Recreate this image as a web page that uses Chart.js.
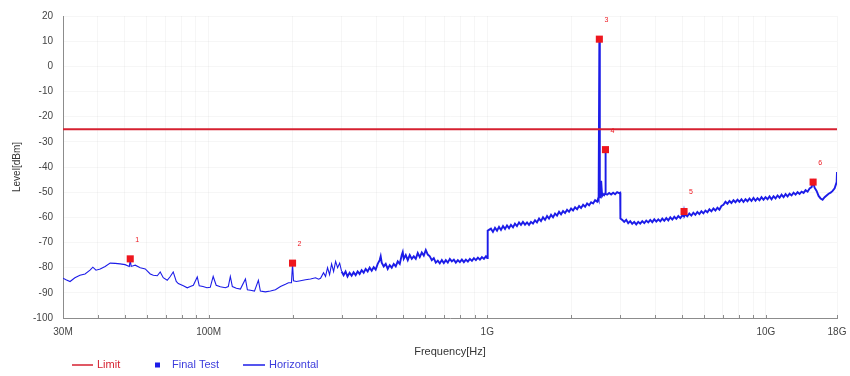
<!DOCTYPE html>
<html><head><meta charset="utf-8">
<script src="https://cdn.jsdelivr.net/npm/chart.js@4.4.1/dist/chart.umd.min.js"></script>
<style>html,body{margin:0;padding:0;background:#fff}canvas{display:block}</style>
</head><body>
<canvas id="c" width="850" height="376"></canvas>
<script>
// ---- data (frequency in MHz, level in dBm) ----
const traceFreqMHz = [
 30.0,30.75,31.8,33.1,34.5,36.0,37.5,38.4,39.4,40.8,42.5,44.3,46.2,48.1,50.1,51.9,52.3,52.7,54.5,56.8,
 59.2,61.7,63.3,65.4,67.0,68.7,71.0,72.8,74.6,76.5,77.8,81.1,83.8,85.9,88.1,91.0,92.5,95.4,98.6,101.3,
 103.8,106.4,110.1,114.8,117.6,119.6,121.6,125.7,130.0,135.5,137.7,141.2,146.0,150.8,153.3,159.8,166.6,173.6,181.0,188.6,
 193.4,198.2,200.0,201.6,206.6,213.6,222.6,232.0,241.9,248.0,252.1,258.4,262.7,267.1,271.6,276.2,280.8,285.5,290.3,295.2,300.0,
 305,310,315,320.5,325.9,331.3,336.9,342.5,348.2,354.0,360.0,366.0,372.1,378.3,384.7,391.1,397.6,404.3,411.0,414.4,
 417.9,424.9,432.0,439.2,446.5,454.0,461.5,469.3,477.1,485.1,493.2,497.3,501.4,509.8,518.3,526.9,535.7,544.7,553.8,563.0,
 572.4,582.0,591.7,601.6,611.6,621.8,632.2,642.7,653.4,664.3,675.4,686.8,698.2,709.9,721.7,733.8,746.1,758.5,771.2,784.1,
 797.2,810.6,824.1,837.9,851.9,866.1,880.7,895.4,910.3,925.5,941.0,956.7,972.7,988.9,997,1000,
 1002,1005,1030.8,1048,1066,1084,1102,1120,1139,1158,1177,1197,1216,1237,1257,1278,1300,1321,1343,1366,
 1389,1412,1435,1459,1484,1508,1534,1559,1585,1612,1639,1666,1694,1722,1751,1780,1810,1840,1871,1902,
 1934,1966,1999,2032,2066,2101,2136,2171,2208,2245,2282,2320,2359,2398,2438,2479,2500,2510,2525,2535,
 2542,2563,2584,2606,2627,2650,2656,2662,2693,2738,2784,2830,2877,2925,2974,2999,3005,
 3050,3101,3153,3205,3259,3313,3368,3425,3482,3540,3600,3660,3721,3783,3846,3911,3976,4043,4110,4179,
 4248,4319,4391,4465,4539,4615,4692,4770,4850,4931,5014,5060,5085,5110,5139,5224,5312,5402,5492,5584,
 5677,5772,5869,5967,6067,6168,6271,6375,6482,6590,6700,6812,6925,7041,7159,7278,7400,7523,7649,7777,
 7907,8039,8173,8310,8449,8590,8733,8878,9027,9177,9330,9486,9645,9806,9970,10136,10305,10478,10653,10831,
 11012,11196,11383,11573,11767,11963,12163,12365,12571,12782,12995,13212,13433,13657,13885,14117,14353,14593,14775,14958,
 15207,15461,15719,15983,16250,16521,16797,17078,17363,17653,17948,18000
];
const traceLevel = [
 -84.2,-84.8,-85.5,-84.0,-83.0,-82.5,-81.0,-79.8,-81.0,-80.5,-79.5,-78.2,-78.3,-78.5,-78.8,-79.5,-77.0,-79.5,-79.0,-80.0,
 -80.5,-82.5,-83.0,-83.2,-81.7,-84.0,-85.0,-83.5,-81.7,-85.5,-86.3,-87.2,-88.0,-87.5,-87.0,-83.7,-87.2,-87.5,-88.0,-87.8,
 -83.5,-87.0,-87.6,-88.0,-87.5,-83.5,-87.5,-88.2,-88.5,-84.5,-88.8,-89.0,-89.3,-85.0,-89.3,-89.6,-89.3,-88.8,-87.5,-86.6,
 -86.0,-86.0,-78.5,-85.2,-85.5,-85.2,-84.8,-84.5,-84.0,-84.6,-84.2,-82.0,-83.5,-80.0,-82.8,-78.5,-81.5,-77.5,-80.0,-78.2,-81.5,
 -83.0,-81.5,-83.5,-82.0,-83.2,-81.8,-83.0,-81.5,-82.5,-81.0,-82.0,-80.5,-81.5,-80.0,-81.2,-79.8,-80.8,-78.5,-77.0,-75.5,
 -78.0,-79.5,-78.5,-80.5,-79.0,-80.0,-78.5,-79.5,-77.5,-78.5,-75.0,-73.8,-76.5,-75.0,-77.0,-75.0,-76.5,-75.5,-76.5,-74.2,
 -75.8,-74.0,-75.2,-73.0,-74.8,-75.5,-77.0,-76.2,-78.0,-77.2,-78.3,-77.0,-78.2,-77.0,-78.0,-76.5,-77.5,-76.8,-78.0,-77.0,
 -77.8,-76.8,-77.8,-76.8,-77.6,-76.5,-77.3,-76.2,-77.0,-76.0,-76.8,-75.8,-76.5,-75.5,-76.0,-76.2,
 -65.0,-65.3,-64.5,-65.8,-64.2,-65.3,-63.8,-65.0,-63.5,-64.6,-63.2,-64.3,-63.0,-64.0,-62.5,-63.5,-62.0,-63.0,-61.8,-62.9,
 -62.0,-63.0,-61.8,-62.5,-61.2,-62.0,-60.5,-61.5,-60.0,-61.0,-59.5,-60.5,-59.0,-60.0,-58.5,-59.3,-57.8,-58.8,-57.5,-58.3,
 -57.0,-57.8,-56.5,-57.3,-56.0,-56.8,-55.5,-56.3,-55.0,-55.8,-54.5,-55.2,-54.0,-54.5,-53.2,-53.8,-52.5,-53.0,10.5,-52.0,
 -52.0,-45.5,-51.5,-50.8,-51.2,-50.5,-33.5,-50.6,-51.0,-50.3,-50.9,-50.2,-50.8,-50.0,-50.4,-50.2,-60.5,
 -61.0,-61.8,-61.0,-62.3,-61.5,-62.6,-61.8,-62.8,-61.8,-62.5,-61.5,-62.3,-61.3,-62.0,-61.0,-61.9,-60.8,-61.7,-60.8,-61.6,
 -60.5,-61.4,-60.3,-61.2,-60.0,-60.9,-59.8,-60.6,-59.5,-60.3,-59.2,-59.5,-57.8,-59.3,-58.8,-59.6,-58.5,-59.3,-58.2,-59.0,
 -57.9,-58.7,-57.6,-58.4,-57.3,-58.0,-56.8,-57.6,-56.5,-57.3,-56.2,-57.0,-55.5,-55.0,-53.8,-54.6,-53.5,-54.3,-53.2,-54.0,
 -53.0,-53.8,-52.8,-53.9,-52.8,-53.6,-52.5,-53.5,-52.3,-53.4,-52.4,-53.2,-52.0,-53.0,-52.0,-52.8,-51.7,-52.8,-51.6,-52.5,
 -51.3,-52.2,-51.0,-52.0,-50.8,-51.7,-50.6,-51.3,-50.2,-51.0,-50.0,-50.7,-49.8,-50.3,-49.2,-49.8,-48.5,-48.0,-46.0,-48.2,
 -49.5,-51.5,-52.5,-53.0,-52.0,-51.3,-50.6,-50.2,-49.5,-48.5,-46.0,-42.0
];
const finalFreqMHz = [52.3, 200.0, 2525, 2656, 5085, 14775];
const finalLevel   = [-76.5, -78.2, 10.8, -33.1, -57.7, -46.0];
const limitFreqMHz = [30, 18000];
const limitLevel   = [-25, -25];
const xTickValues = [30,40,50,60,70,80,90,100,200,300,400,500,600,700,800,900,
                     1000,2000,3000,4000,5000,6000,7000,8000,9000,10000,18000];
const xTickLabels = {30:'30M',100:'100M',1000:'1G',10000:'10G',18000:'18G'};
const seriesNames = ['Limit','Final Test','Horizontal'];

const FONT = '"Liberation Sans", Arial, sans-serif';
const RED = 'rgb(214,32,48)';
const MARK = 'rgb(238,22,30)';
const BLUE = 'rgb(28,28,232)';

const pts = (xs, ys) => xs.map((x, i) => ({x, y: ys[i]}));

const innerTicks = {
  id: 'innerTicks',
  afterDraw(chart) {
    const {ctx, chartArea} = chart, x = chart.scales.x;
    ctx.save();
    ctx.strokeStyle = '#8c8c8c'; ctx.lineWidth = 1;
    x.ticks.forEach(t => {
      const px = Math.round(x.getPixelForValue(t.value)) + 0.5;
      ctx.beginPath(); ctx.moveTo(px, chartArea.bottom); ctx.lineTo(px, chartArea.bottom - 3); ctx.stroke();
    });
    ctx.restore();
  }
};

const markerNumbers = {
  id: 'markerNumbers',
  afterDatasetsDraw(chart) {
    const {ctx} = chart;
    const meta = chart.getDatasetMeta(0);
    ctx.save();
    ctx.font = '7px ' + FONT; ctx.fillStyle = MARK;
    ctx.textAlign = 'center'; ctx.textBaseline = 'middle';
    meta.data.forEach((p, i) => ctx.fillText(String(i + 1), p.x + 7, p.y - 19));
    ctx.restore();
  }
};

const bottomLegend = {
  id: 'bottomLegend',
  afterDraw(chart) {
    const {ctx} = chart;
    const y = 365;
    ctx.save();
    ctx.font = '11px ' + FONT; ctx.textBaseline = 'middle'; ctx.textAlign = 'left';
    ctx.strokeStyle = RED; ctx.lineWidth = 1.5;
    ctx.beginPath(); ctx.moveTo(72, y); ctx.lineTo(93, y); ctx.stroke();
    ctx.fillStyle = RED; ctx.fillText(seriesNames[0], 97, y);
    ctx.fillStyle = BLUE; ctx.fillRect(155, y - 2.5, 5, 5);
    ctx.fillStyle = 'rgb(60,60,220)'; ctx.fillText(seriesNames[1], 172, y);
    ctx.strokeStyle = BLUE; ctx.beginPath(); ctx.moveTo(243, y); ctx.lineTo(265, y); ctx.stroke();
    ctx.fillStyle = 'rgb(60,60,220)'; ctx.fillText(seriesNames[2], 269, y);
    ctx.restore();
  }
};

new Chart(document.getElementById('c'), {
  type: 'scatter',
  data: {
    datasets: [
      { label: seriesNames[1], data: pts(finalFreqMHz, finalLevel), showLine: false,
        pointStyle: 'rect', pointRadius: 5, pointHoverRadius: 5,
        backgroundColor: MARK, borderColor: MARK, borderWidth: 0 },
      { label: seriesNames[0], data: pts(limitFreqMHz, limitLevel), showLine: true,
        borderColor: RED, borderWidth: 2, pointRadius: 0 },
      { label: seriesNames[2], data: pts(traceFreqMHz, traceLevel), showLine: true,
        borderColor: BLUE, borderWidth: 1.2, pointRadius: 0, tension: 0,
        segment: { borderWidth: c => (c.p0.parsed.x >= 300 ? 1.9 : 1.1) } }
    ]
  },
  options: {
    responsive: false, animation: false, devicePixelRatio: 1,
    layout: { padding: { top: 13, right: 13, left: 0, bottom: 0 } },
    plugins: { legend: { display: false }, tooltip: { enabled: false } },
    scales: {
      x: {
        type: 'logarithmic', min: 30, max: 18000,
        afterBuildTicks(scale) { scale.ticks = xTickValues.map(v => ({value: v})); },
        afterFit(scale) { scale.height = 58; scale.paddingRight = 0; scale.paddingLeft = 0; },
        ticks: { autoSkip: false, maxRotation: 0, minRotation: 0, padding: 8,
          font: { family: FONT, size: 10 }, color: '#444',
          callback: (v) => xTickLabels[v] || '' },
        grid: { color: 'rgba(0,0,0,0.035)', drawTicks: false },
        border: { color: '#8c8c8c', width: 1 },
        title: { display: true, text: 'Frequency[Hz]', font: { family: FONT, size: 11 }, color: '#333',
          padding: { top: 0, bottom: 17 } }
      },
      y: {
        min: -100, max: 20,
        afterFit(scale) { scale.width = 63; },
        ticks: { stepSize: 10, padding: 10, font: { family: FONT, size: 10 }, color: '#444' },
        grid: { color: 'rgba(0,0,0,0.035)', drawTicks: false },
        border: { color: '#8c8c8c', width: 1 },
        title: { display: true, text: 'Level[dBm]', font: { family: FONT, size: 10 }, color: '#333',
          padding: { top: 11, bottom: 0 } }
      }
    }
  },
  plugins: [innerTicks, markerNumbers, bottomLegend]
});
</script>
</body></html>
